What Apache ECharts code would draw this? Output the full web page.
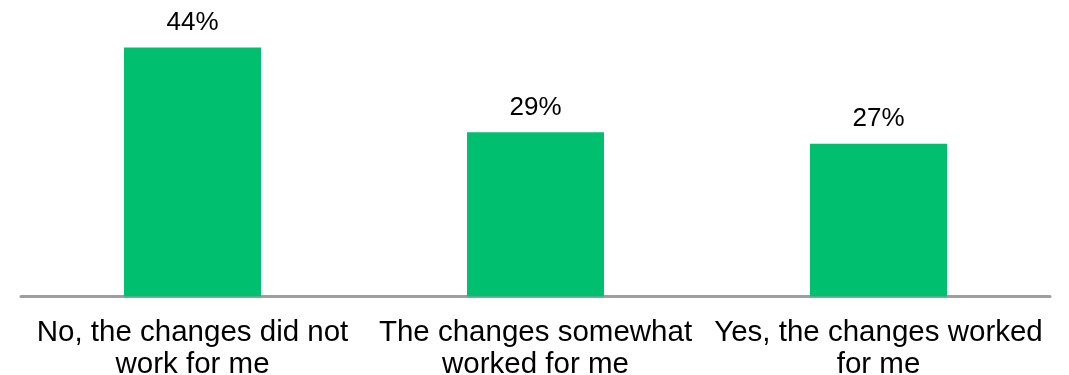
<!DOCTYPE html>
<html>
<head>
<meta charset="utf-8">
<style>
  html, body { margin: 0; padding: 0; background: #ffffff; }
  #chart { width: 1069px; height: 375px; }
</style>
<script src="https://cdn.jsdelivr.net/npm/echarts@6/dist/echarts.min.js"></script>
</head>
<body>
<div id="chart"></div>
<script>
// Survey answers and their share of respondents (%)
const categories = [
  'No, the changes did not\nwork for me',
  'The changes somewhat\nworked for me',
  'Yes, the changes worked\nfor me'
];
const shares = [44, 29, 27];

const chart = echarts.init(document.getElementById('chart'), null, { renderer: 'canvas' });

chart.setOption({
  animation: false,
  backgroundColor: '#ffffff',
  textStyle: { fontFamily: '"Liberation Sans", Arial, sans-serif' },
  grid: {
    left: 21, right: 19, top: 13.5, bottom: 78.5,
    containLabel: false,
    outerBoundsMode: 'none'
  },
  xAxis: {
    type: 'category',
    data: categories,
    axisLine: { show: true, lineStyle: { color: '#9e9e9e', width: 3 } },
    axisTick: { show: false },
    axisLabel: {
      color: '#000000',
      fontSize: 29.5,
      lineHeight: 32,
      margin: 20,
      interval: 0
    }
  },
  yAxis: {
    type: 'value',
    min: 0,
    max: 50,
    show: false,
    splitLine: { show: false }
  },
  series: [{
    type: 'bar',
    data: shares,
    barWidth: 137,
    itemStyle: { color: '#00BF6F' },
    label: {
      show: true,
      position: 'top',
      distance: 12,
      color: '#000000',
      fontSize: 26,
      formatter: p => p.value + '%'
    }
  }]
});
</script>
</body>
</html>
